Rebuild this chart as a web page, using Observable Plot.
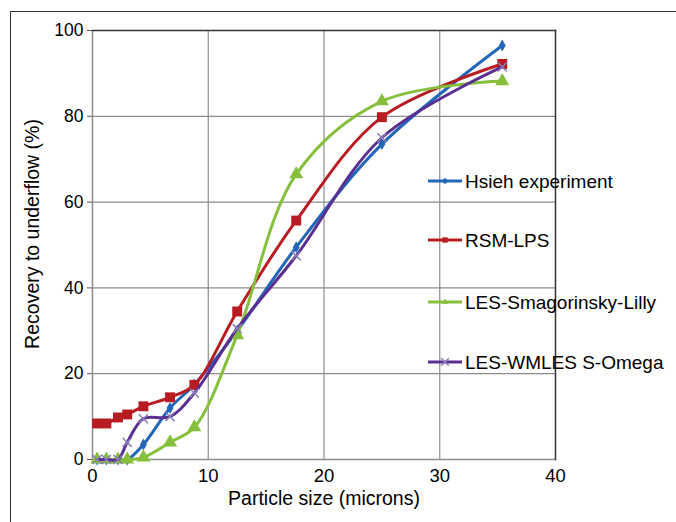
<!DOCTYPE html>
<html>
<head>
<meta charset="utf-8">
<script src="https://cdn.jsdelivr.net/npm/d3@7"></script>
<script src="https://cdn.jsdelivr.net/npm/@observablehq/plot@0.6"></script>
<style>
  html, body { margin: 0; padding: 0; background: #fff; }
  #wrap { position: relative; width: 676px; height: 522px; overflow: hidden; font-family: "Liberation Sans", Arial, sans-serif; }
  #border { position: absolute; left: 10px; top: 11px; width: 700px; height: 600px; border-top: 1.5px solid #333; border-left: 1.5px solid #333; }
  #chart { position: absolute; left: 0; top: 0; }
  #legend { position: absolute; left: 0; top: 0; }
</style>
</head>
<body>
<div id="wrap"><div id="border"></div><div id="chart"></div><svg id="legend" width="676" height="522"></svg></div>
<script>
const sizes = [0.4, 1.2, 2.2, 3.0, 4.4, 6.7, 8.8, 12.5, 17.6, 25, 35.4];
const hsieh = [0, 0, 0, 0, 3.5, 12, 17.5, 30, 49.5, 73.5, 96.5];
const rsmLps = [8.4, 8.4, 9.8, 10.5, 12.4, 14.5, 17.4, 34.5, 55.7, 79.8, 92.2];
const lesSmag = [0, 0, 0, 0, 0.5, 4, 7.5, 29, 66.5, 83.5, 88.2];
const lesWmles = [0, 0, 0, 4, 9.5, 10, 15.5, 30.5, 47.5, 75, 91.5];
const seriesNames = ["Hsieh experiment", "RSM-LPS", "LES-Smagorinsky-Lilly", "LES-WMLES S-Omega"];
const seriesValues = [hsieh, rsmLps, lesSmag, lesWmles];
const colors = ["#2166b8", "#b81c22", "#86bf3c", "#5a2f91"];
const symbols = ["diamond", "square", "triangle", "times"];
const symbolR = [3.6, 5.6, 5.2, 4.2];
const xTicks = [0, 10, 20, 30, 40];
const yTicks = [0, 20, 40, 60, 80, 100];

const rows = [];
seriesNames.forEach((name, i) => {
  sizes.forEach((s, j) => rows.push({series: name, idx: i, x: s, y: seriesValues[i][j]}));
});

const marks = [
  Plot.gridX([10, 20, 30], {stroke: "#8c8c8c", strokeOpacity: 1, strokeWidth: 1.2}),
  Plot.gridY([20, 40, 60, 80], {stroke: "#8c8c8c", strokeOpacity: 1, strokeWidth: 1.2}),
  Plot.ruleX([0], {stroke: "#8c8c8c", strokeWidth: 1.5}),
  Plot.ruleY([0], {stroke: "#8c8c8c", strokeWidth: 1.5}),
  Plot.frame({anchor: "top", stroke: "#333", strokeWidth: 1.5}),
  Plot.frame({anchor: "right", stroke: "#333", strokeWidth: 1.5}),
  Plot.axisY({ticks: yTicks, tickSize: 5, tickPadding: 4, label: null, fontSize: 17.5, stroke: "#555", color: "#000"}),
  Plot.axisX({ticks: xTicks, tickSize: 0, tickPadding: 9, label: null, fontSize: 18.5, color: "#000"}),
  Plot.text(["Particle size (microns)"], {frameAnchor: "bottom", dy: 45, fontSize: 19.5, fill: "#000"}),
  Plot.text(["Recovery to underflow (%)"], {frameAnchor: "left", textAnchor: "middle", dx: -60, dy: -11, rotate: -90, fontSize: 19.5, fill: "#000"})
];

seriesNames.forEach((name, i) => {
  const d = rows.filter(r => r.idx === i);
  marks.push(Plot.line(d, {x: "x", y: "y", stroke: colors[i], strokeWidth: 3, curve: "catmull-rom"}));
  if (symbols[i] === "times") {
    marks.push(Plot.dot(d, {x: "x", y: "y", symbol: "times", r: symbolR[i], stroke: "#8a7fb5", strokeWidth: 1.5}));
  } else {
    marks.push(Plot.dot(d, {x: "x", y: "y", symbol: symbols[i], r: symbolR[i], fill: colors[i], stroke: "none"}));
  }
});

const chart = Plot.plot({
  width: 676,
  height: 522,
  marginLeft: 92,
  marginRight: 121,
  marginTop: 30,
  marginBottom: 63,
  x: {domain: [0, 40]},
  y: {domain: [0, 100]},
  style: {fontFamily: "'Liberation Sans', Arial, sans-serif", fontSize: "16px", background: "transparent", overflow: "visible"},
  marks
});
document.getElementById("chart").appendChild(chart);

// Legend
const leg = d3.select("#legend");
const rowY = [181, 240, 302, 362];
const symGen = {diamond: d3.symbolDiamond2, square: d3.symbolSquare, triangle: d3.symbolTriangle2, times: d3.symbolTimes};
seriesNames.forEach((name, i) => {
  const g = leg.append("g").attr("transform", `translate(0,${rowY[i]})`);
  g.append("line").attr("x1", 428).attr("x2", 462).attr("y1", 0).attr("y2", 0)
    .attr("stroke", colors[i]).attr("stroke-width", 3);
  const sym = d3.symbol().type(symGen[symbols[i]]).size(symbols[i] === "times" ? 40 : 28)();
  g.append("path").attr("d", sym).attr("transform", "translate(445,0)")
    .attr("fill", symbols[i] === "times" ? "none" : colors[i])
    .attr("stroke", symbols[i] === "times" ? "#8a7fb5" : "none").attr("stroke-width", 1.5);
  g.append("text").attr("x", 465).attr("y", 0).attr("dy", "0.36em")
    .attr("font-family", "'Liberation Sans', Arial, sans-serif").attr("font-size", 19)
    .attr("fill", "#000").text(name);
});
</script>
</body>
</html>
